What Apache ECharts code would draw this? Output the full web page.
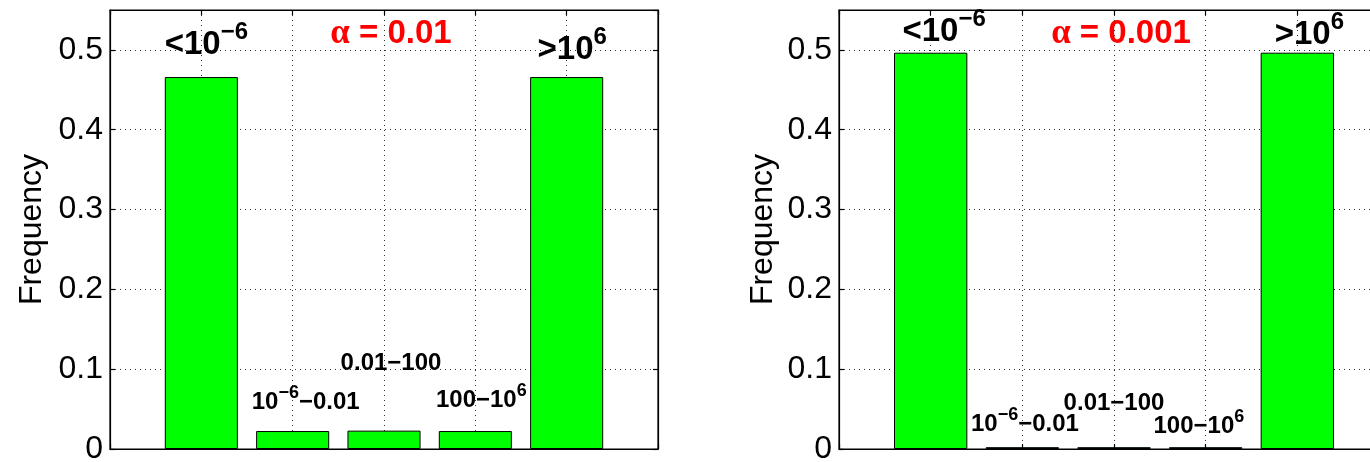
<!DOCTYPE html>
<html>
<head>
<meta charset="utf-8">
<script src="https://cdn.jsdelivr.net/npm/echarts@6/dist/echarts.min.js"></script>
<style>
  html, body { margin: 0; padding: 0; background: #ffffff; }
  #chart { width: 1370px; height: 462px; }
</style>
</head>
<body>
<div id="chart"></div>
<script>
// ---- data ----
// Bin labels in rich-text markup: M/S = large run / superscript, m/s = small run / superscript
const binLabels = [
  '{M|<10}{S|\u22126}',
  '{m|10}{s|\u22126}{m|\u22120.01}',
  '{m|0.01\u2212100}',
  '{m|100\u221210}{s|6}',
  '{M|>10}{S|6}'
];
const alphaLabels = ['0.01', '0.001'];
const freqAlpha01 = [0.466, 0.0225, 0.023, 0.0225, 0.466];
const freqAlpha001 = [0.4965, 0.0023, 0.0023, 0.0023, 0.4965];
const yMax = 0.55;
const yStep = 0.1;

// ---- layout ----
const FONT = '"Liberation Sans", Arial, Helvetica, sans-serif';
const panels = [
  { left: 110, width: 548, values: freqAlpha01, alpha: alphaLabels[0],
    labelShift: [[5, -7], [13, -9.5], [7, -55], [6, -11.5], [5.5, -2]], nameGap: 62 },
  { left: 839, width: 550, values: freqAlpha001, alpha: alphaLabels[1],
    labelShift: [[13.5, 4], [2.6, -3.7], [0, -32], [-6.8, -1.7], [12, 7.3]], nameGap: 60 }
];
const TOP = 10, BOTTOM = 13;

// superscript raise via bottom padding of the superscript run
const K = 0.35;
function supPad(F, S, R) { return 2 * R + S + 2 * K * (S - F) - S; }
const rich = {
  M: { fontFamily: FONT, fontWeight: 'bold', fontSize: 33, lineHeight: 33, color: '#000' },
  S: { fontFamily: FONT, fontWeight: 'bold', fontSize: 24, height: 24, color: '#000',
       padding: [0, 0, supPad(33, 24, 16), 0] },
  m: { fontFamily: FONT, fontWeight: 'bold', fontSize: 24, lineHeight: 24, color: '#000' },
  s: { fontFamily: FONT, fontWeight: 'bold', fontSize: 18, height: 18, color: '#000',
       padding: [0, 0, supPad(24, 18, 12), 0] }
};

const dotted = { color: '#333', width: 1, type: [1, 4] };
const frame = { color: '#000', width: 1.2 };
const tick = { show: true, inside: true, length: 5, lineStyle: frame };

const grid = [], xAxis = [], yAxis = [], series = [], title = [];
panels.forEach((p, k) => {
  grid.push({ left: p.left, width: p.width, top: TOP, bottom: BOTTOM,
              outerBoundsMode: 'none',
              show: true, borderColor: '#000', borderWidth: 1.2, backgroundColor: '#fff' });
  // bottom and top x axes (bin positions 1..5 on a 0..6 range)
  xAxis.push({ type: 'value', gridIndex: k, min: 0, max: 6, interval: 1, position: 'bottom',
               axisLine: { show: true, onZero: false, lineStyle: frame },
               axisTick: tick, axisLabel: { show: false },
               splitLine: { show: true, lineStyle: dotted } });
  xAxis.push({ type: 'value', gridIndex: k, min: 0, max: 6, interval: 1, position: 'top',
               axisLine: { show: true, onZero: false, lineStyle: frame },
               axisTick: tick, axisLabel: { show: false }, splitLine: { show: false } });
  yAxis.push({ type: 'value', gridIndex: k, min: 0, max: yMax, interval: yStep, position: 'left',
               name: 'Frequency', nameLocation: 'middle', nameGap: p.nameGap,
               nameTextStyle: { fontFamily: FONT, fontSize: 32, color: '#000' },
               axisLine: { show: true, onZero: false, lineStyle: frame },
               axisTick: tick,
               axisLabel: { fontFamily: FONT, fontSize: 32, color: '#000', margin: 7,
                            showMaxLabel: false },
               splitLine: { show: true, lineStyle: dotted } });
  yAxis.push({ type: 'value', gridIndex: k, min: 0, max: yMax, interval: yStep, position: 'right',
               axisLine: { show: true, onZero: false, lineStyle: frame },
               axisTick: tick, axisLabel: { show: false }, splitLine: { show: false } });
  series.push({
    type: 'bar', xAxisIndex: 2 * k, yAxisIndex: 2 * k, barWidth: '80%',
    itemStyle: { color: '#00ff00', borderColor: '#000', borderWidth: 1 },
    label: { show: true, position: 'top', distance: 0, rich: rich },
    data: p.values.map((v, i) => ({
      value: [i + 1, v],
      label: { formatter: binLabels[i], offset: p.labelShift[i] }
    })),
    animation: false
  });
  title.push({
    text: '{a|\u03b1}{b| = ' + p.alpha + '}',
    left: p.left + p.width / 2 + 7, top: 16.5, textAlign: 'center', padding: 0,
    textStyle: { rich: {
      a: { fontFamily: '"Liberation Serif", "DejaVu Serif", serif', fontSize: 35, lineHeight: 34, color: '#ff0000' },
      b: { fontFamily: FONT, fontWeight: 'bold', fontSize: 33, lineHeight: 34, color: '#ff0000' }
    } }
  });
});

const chart = echarts.init(document.getElementById('chart'), null, { renderer: 'canvas' });
chart.setOption({ animation: false, backgroundColor: '#ffffff', title, grid, xAxis, yAxis, series });
</script>
</body>
</html>
